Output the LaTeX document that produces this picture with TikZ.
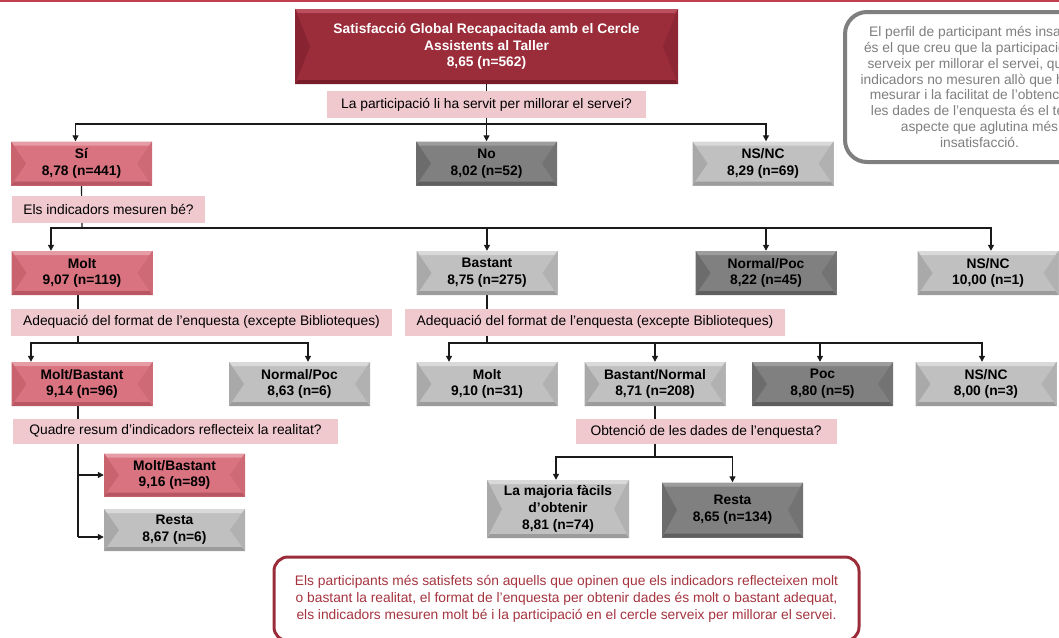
\documentclass[tikz,border=0pt]{standalone}
\usepackage{fontspec}
\setmainfont{Liberation Sans}
\usetikzlibrary{arrows.meta}
\pgfdeclarelayer{bg}
\pgfsetlayers{bg,main}

% palette
\definecolor{rule}{HTML}{C0404F}
\definecolor{qpink}{HTML}{F0C9CF}
\definecolor{linecol}{HTML}{1A1A1A}
\definecolor{callgray}{HTML}{7F7F7F}
\definecolor{concred}{HTML}{9B2C3A}
\definecolor{conctext}{HTML}{A5343F}
% bevelled box shades: face, top, left, right, bottom
\definecolor{rdF}{HTML}{9B2C3A}\definecolor{rdT}{HTML}{BA505D}\definecolor{rdL}{HTML}{882331}\definecolor{rdR}{HTML}{8E2735}\definecolor{rdB}{HTML}{781C29}
\definecolor{pkF}{HTML}{D8737F}\definecolor{pkT}{HTML}{E69CA5}\definecolor{pkL}{HTML}{C9646F}\definecolor{pkR}{HTML}{CE6A76}\definecolor{pkB}{HTML}{B85663}
\definecolor{lgF}{HTML}{C0C0C0}\definecolor{lgT}{HTML}{D9D9D9}\definecolor{lgL}{HTML}{A9A9A9}\definecolor{lgR}{HTML}{B1B1B1}\definecolor{lgB}{HTML}{9C9C9C}
\definecolor{dgF}{HTML}{808080}\definecolor{dgT}{HTML}{9D9D9D}\definecolor{dgL}{HTML}{6C6C6C}\definecolor{dgR}{HTML}{737373}\definecolor{dgB}{HTML}{5F5F5F}

\newcommand\boxfont{\fontsize{13.8}{16.8}\selectfont\bfseries}
\newcommand\qfont{\fontsize{13.8}{15}\selectfont}

\tikzset{
  bev/.style n args={5}{draw=none, fill=#1, minimum width=141pt, minimum height=44pt,
    inner sep=1pt, align=center, font=\boxfont, text=black,
    path picture={
      \coordinate (pnw) at (path picture bounding box.north west);
      \coordinate (pne) at (path picture bounding box.north east);
      \coordinate (psw) at (path picture bounding box.south west);
      \coordinate (pse) at (path picture bounding box.south east);
      \coordinate (pw) at (path picture bounding box.west);
      \coordinate (pe) at (path picture bounding box.east);
      \fill[#2] (pnw) -- (pne) -- ([shift={(-3pt,-4pt)}]pne) -- ([shift={(3pt,-4pt)}]pnw) -- cycle;
      \fill[#5] (psw) -- (pse) -- ([shift={(-3pt,4pt)}]pse) -- ([shift={(3pt,4pt)}]psw) -- cycle;
      \fill[#3] (pnw) -- ([xshift=15pt]pw) -- (psw) -- cycle;
      \fill[#4] (pne) -- ([xshift=-15pt]pe) -- (pse) -- cycle;
    }},
  redbox/.style={bev={rdF}{rdT}{rdL}{rdR}{rdB}, text=white},
  pinkbox/.style={bev={pkF}{pkT}{pkL}{pkR}{pkB}},
  lgbox/.style={bev={lgF}{lgT}{lgL}{lgR}{lgB}},
  dgbox/.style={bev={dgF}{dgT}{dgL}{dgR}{dgB}},
  qlabel/.style={fill=qpink, font=\qfont, inner sep=0pt, minimum height=27pt},
  conn/.style={draw=linecol, line width=1.2pt},
  arr/.style={conn, -{Triangle[length=6pt,width=6pt]}},
}

\begin{document}
\begin{tikzpicture}[x=1pt,y=-1pt]
\useasboundingbox (0,0) rectangle (1059,637);
\clip (0,0) rectangle (1059,637);

% top rule
\draw[rule, line width=2pt] (0,1) -- (1059,1);

% root and first question
\node[redbox, minimum width=383pt, minimum height=75pt] (top) at (486.5,46.5)
  {Satisfacció Global Recapacitada amb el Cercle\\Assistents al Taller\\8,65 (n=562)};
\node[qlabel, minimum width=319pt] (q1) at (486.5,104.5) {La participació li ha servit per millorar el servei?};

% level 1
\node[pinkbox] (si) at (81.5,163.5) {Sí\\8,78 (n=441)};
\node[dgbox] (no) at (486.5,163.5) {No\\8,02 (n=52)};
\node[lgbox] (nsnc1) at (763,163.5) {NS/NC\\8,29 (n=69)};

% side note
\node[draw=callgray, line width=4pt, rounded corners=22pt, fill=white,
      minimum width=269pt, minimum height=150pt, text=callgray, inner sep=0pt,
      font=\fontsize{13.8}{15.8}\selectfont, align=center] (note) at (979.5,87)
  {El perfil de participant més insatisfet\\
   és el que creu que la participació no li\\
   serveix per millorar el servei, que els\\
   indicadors no mesuren allò que han de\\
   mesurar i la facilitat de l’obtenció de\\
   les dades de l’enquesta és el tercer\\
   aspecte que aglutina més\\
   insatisfacció.};

\node[qlabel, minimum width=193pt] (q2) at (108.5,209.5) {Els indicadors mesuren bé?};

% level 2
\node[pinkbox] (molt) at (82,273) {Molt\\9,07 (n=119)};
\node[lgbox] (bastant) at (487,273) {Bastant\\8,75 (n=275)};
\node[dgbox] (np2) at (766,273) {Normal/Poc\\8,22 (n=45)};
\node[lgbox] (nsnc2) at (988,273) {NS/NC\\10,00 (n=1)};

\node[qlabel, minimum width=381pt] (q3a) at (201.5,322) {Adequació del format de l’enquesta (excepte Biblioteques)};
\node[qlabel, minimum width=380pt] (q3b) at (595,322) {Adequació del format de l’enquesta (excepte Biblioteques)};

% level 3
\node[pinkbox] (mb3) at (82,384) {Molt/Bastant\\9,14 (n=96)};
\node[lgbox] (np3) at (299.5,384) {Normal/Poc\\8,63 (n=6)};
\node[lgbox] (molt3) at (487,384) {Molt\\9,10 (n=31)};
\node[lgbox] (bn3) at (655,384) {Bastant/Normal\\8,71 (n=208)};
\node[dgbox] (poc3) at (822.5,384) {Poc\\8,80 (n=5)};
\node[lgbox] (nsnc3) at (986,384) {NS/NC\\8,00 (n=3)};

\node[qlabel, minimum width=325pt, minimum height=25pt] (q4a) at (175.5,431) {Quadre resum d’indicadors reflecteix la realitat?};
\node[qlabel, minimum width=261pt, minimum height=25pt] (q4b) at (706,431.5) {Obtenció de les dades de l’enquesta?};

% level 4
\node[pinkbox, minimum height=43pt] (mb4) at (174.5,475) {Molt/Bastant\\9,16 (n=89)};
\node[lgbox, minimum height=42pt] (resta4) at (174.5,530) {Resta\\8,67 (n=6)};
\node[lgbox, minimum width=142pt, minimum height=58pt] (maj) at (558,509)
  {La majoria fàcils\\d’obtenir\\8,81 (n=74)};
\node[dgbox, minimum height=55pt] (resta5) at (732.5,510) {Resta\\8,65 (n=134)};

% conclusion
\node[draw=concred, line width=3pt, rounded corners=14pt, fill=white,
      minimum width=585pt, minimum height=84pt, text=conctext, inner sep=0pt,
      font=\fontsize{13.8}{17}\selectfont, align=center] (concl) at (566.5,599)
  {Els participants més satisfets són aquells que opinen que els indicadors reflecteixen molt\\
   o bastant la realitat, el format de l’enquesta per obtenir dades és molt o bastant adequat,\\
   els indicadors mesuren molt bé i la participació en el cercle serveix per millorar el servei.};

% connectors
\begin{pgfonlayer}{bg}
  \coordinate (b1) at (486.5,124);
  \draw[conn] (top.south) -- (b1);
  \draw[arr] (b1) -| ([xshift=-6pt]si.north);
  \draw[arr] (b1) -- (no.north);
  \draw[arr] (b1) -| ([xshift=3pt]nsnc1.north);

  \coordinate (b2) at (82,228);
  \draw[conn] (si.south) -- (b2);
  \draw[arr] (b2) -| ([xshift=-31pt]molt.north);
  \draw[arr] (b2) -| (bastant.north);
  \draw[arr] (b2) -| (np2.north);
  \draw[arr] (b2) -| ([xshift=3pt]nsnc2.north);

  \coordinate (b3a) at (78,343);
  \draw[conn] ([xshift=-4pt]molt.south) -- (b3a);
  \draw[arr] (b3a) -| ([xshift=-51pt]mb3.north);
  \draw[arr] (b3a) -| ([xshift=8.5pt]np3.north);

  \coordinate (b3b) at (487,343);
  \draw[conn] (bastant.south) -- (b3b);
  \draw[arr] (b3b) -| ([xshift=-38pt]molt3.north);
  \draw[arr] (b3b) -| (bn3.north);
  \draw[arr] (b3b) -| ([xshift=-2.5pt]poc3.north);
  \draw[arr] (b3b) -| ([xshift=-4pt]nsnc3.north);

  \coordinate (b4a) at (78,537);
  \draw[conn] ([xshift=-4pt]mb3.south) -- (b4a);
  \draw[arr] (mb3.south -| b4a) |- (mb4.west);
  \draw[arr] (b4a) -- (b4a -| resta4.west);

  \coordinate (b4b) at (655,457);
  \draw[conn] (bn3.south) -- (b4b);
  \draw[arr] (b4b) -| ([xshift=-2pt]maj.north);
  \draw[arr] (b4b) -| (resta5.north);
\end{pgfonlayer}
\end{tikzpicture}
\end{document}
